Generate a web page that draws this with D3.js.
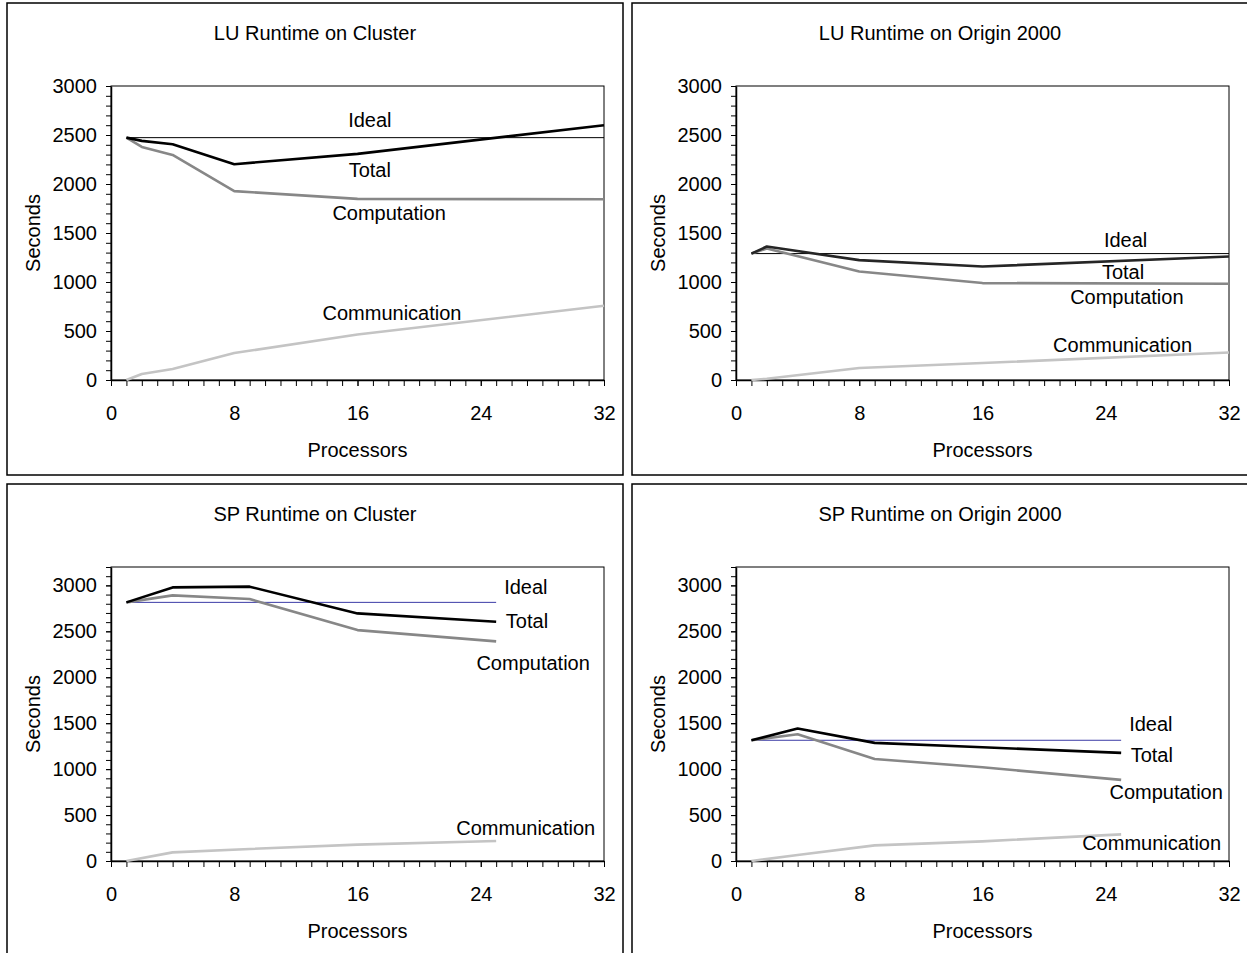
<!DOCTYPE html>
<html lang="en">
  <head>
    <meta charset="UTF-8" />
    <title>LU / SP Runtime</title>
    <script src="https://cdn.jsdelivr.net/npm/d3@7"></script>
    <style>
      body {
        margin: 0;
        background: #fff;
      }
      svg {
        font-family: "Liberation Sans", Arial, sans-serif;
      }
      .axis path,
      .axis line {
        stroke: #000;
      }
      .axis text {
        font-family: "Liberation Sans", Arial, sans-serif;
        font-size: 20px;
        fill: #000;
      }
    </style>
  </head>
  <body>
    <script>
      // processor counts
      const luProcs = [1, 2, 4, 8, 16, 32];
      const luOriginProcs = [1, 2, 8, 16, 32];
      const spProcs = [1, 4, 9, 16, 25];

      // LU on cluster (seconds)
      const luClusterIdeal = 2473;
      const luClusterTotal = [2473, 2440, 2406, 2202, 2307, 2600];
      const luClusterComp = [2473, 2378, 2297, 1927, 1848, 1845];
      const luClusterComm = [0, 61, 112, 275, 465, 757];

      // LU on Origin 2000
      const luOriginIdeal = 1290;
      const luOriginTotal = [1290, 1362, 1223, 1158, 1260];
      const luOriginComp = [1290, 1342, 1107, 989, 982];
      const luOriginComm = [0, 13, 122, 173, 281];

      // SP on cluster
      const spClusterIdeal = 2815;
      const spClusterTotal = [2815, 2978, 2986, 2695, 2604];
      const spClusterComp = [2815, 2891, 2851, 2513, 2390];
      const spClusterComm = [0, 94, 131, 178, 218];

      // SP on Origin 2000
      const spOriginIdeal = 1314;
      const spOriginTotal = [1314, 1442, 1286, 1238, 1177];
      const spOriginComp = [1314, 1380, 1111, 1020, 883];
      const spOriginComm = [0, 65, 170, 214, 290];

      const xTicks = [0, 8, 16, 24, 32];
      const yTicks = [0, 500, 1000, 1500, 2000, 2500, 3000];

      const width = 1247;
      const height = 953;

      const svg = d3
        .select("body")
        .append("svg")
        .attr("width", width)
        .attr("height", height);

      const panels = [
        {
          x: 7, y: 3, title: "LU Runtime on Cluster", procs: luProcs,
          ideal: luClusterIdeal, total: luClusterTotal, comp: luClusterComp, comm: luClusterComm,
          yMax: 3000, idealColor: "#000", totalColor: "#000",
          labels: [["Ideal", 16.8, 2585], ["Total", 16.8, 2074], ["Computation", 18.05, 1633], ["Communication", 18.24, 612]]
        },
        {
          x: 632, y: 3, title: "LU Runtime on Origin 2000", procs: luOriginProcs,
          ideal: luOriginIdeal, total: luOriginTotal, comp: luOriginComp, comm: luOriginComm,
          yMax: 3000, idealColor: "#000", totalColor: "#262626",
          labels: [["Ideal", 25.29, 1360], ["Total", 25.12, 1028], ["Computation", 25.37, 776], ["Communication", 25.09, 289]]
        },
        {
          x: 7, y: 484, title: "SP Runtime on Cluster", procs: spProcs,
          ideal: spClusterIdeal, total: spClusterTotal, comp: spClusterComp, comm: spClusterComm,
          yMax: 3200, idealColor: "#3b3ba6", totalColor: "#000",
          labels: [["Ideal", 26.93, 2903], ["Total", 27.0, 2539], ["Computation", 27.4, 2082], ["Communication", 26.92, 280]]
        },
        {
          x: 632, y: 484, title: "SP Runtime on Origin 2000", procs: spProcs,
          ideal: spOriginIdeal, total: spOriginTotal, comp: spOriginComp, comm: spOriginComm,
          yMax: 3200, idealColor: "#3b3ba6", totalColor: "#000",
          labels: [["Ideal", 26.93, 1415], ["Total", 26.99, 1078], ["Computation", 27.92, 672], ["Communication", 26.98, 123]]
        }
      ];

      const panelW = 616;
      const panelH = 472;
      const plotLeft = 104;
      const plotTop = 83;
      const plotW = 493;
      const plotH = 294;

      panels.forEach(p => {
        const g = svg.append("g").attr("transform", "translate(" + p.x + "," + p.y + ")");

        g.append("rect")
          .attr("width", panelW)
          .attr("height", panelH)
          .attr("fill", "#fff")
          .attr("stroke", "#000")
          .attr("stroke-width", 1.5);

        g.append("text")
          .attr("x", panelW / 2)
          .attr("y", 37)
          .attr("text-anchor", "middle")
          .style("font-size", "20px")
          .text(p.title);

        const xScale = d3.scaleLinear().domain([0, 32]).range([plotLeft, plotLeft + plotW]);
        const yScale = d3.scaleLinear().domain([0, p.yMax]).range([plotTop + plotH, plotTop]);

        // plot box
        g.append("rect")
          .attr("x", plotLeft)
          .attr("y", plotTop)
          .attr("width", plotW)
          .attr("height", plotH)
          .attr("fill", "none")
          .attr("stroke", "#000")
          .attr("stroke-width", 1);

        // minor ticks
        g.append("g")
          .attr("class", "axis")
          .attr("transform", "translate(0," + (plotTop + plotH) + ")")
          .call(d3.axisBottom(xScale).tickValues(d3.range(0, 33, 1)).tickSize(6).tickFormat(""))
          .select(".domain").remove();
        g.append("g")
          .attr("class", "axis")
          .attr("transform", "translate(" + plotLeft + ",0)")
          .call(d3.axisLeft(yScale).tickValues(d3.range(0, p.yMax + 1, 100)).tickSize(5).tickFormat(""))
          .select(".domain").remove();

        // major axes
        g.append("g")
          .attr("class", "axis")
          .attr("transform", "translate(0," + (plotTop + plotH) + ")")
          .call(d3.axisBottom(xScale).tickValues(xTicks).tickSize(6).tickSizeOuter(0).tickPadding(20))
          .select(".domain").attr("stroke-width", 1.5);
        g.append("g")
          .attr("class", "axis")
          .attr("transform", "translate(" + plotLeft + ",0)")
          .call(d3.axisLeft(yScale).tickValues(yTicks).tickFormat(d3.format("d")).tickSize(5).tickSizeOuter(0).tickPadding(9))
          .select(".domain").attr("stroke-width", 1.5);

        g.append("text")
          .attr("x", plotLeft + plotW / 2)
          .attr("y", 454)
          .attr("text-anchor", "middle")
          .style("font-size", "20px")
          .text("Processors");

        g.append("text")
          .attr("transform", "translate(33," + (plotTop + plotH / 2) + ") rotate(-90)")
          .attr("text-anchor", "middle")
          .style("font-size", "20px")
          .text("Seconds");

        const line = d3
          .line()
          .x(d => xScale(d[0]))
          .y(d => yScale(d[1]));

        const first = p.procs[0];
        const last = p.procs[p.procs.length - 1];

        const series = [
          { vals: p.comm, color: "#c4c4c4", w: 2.6 },
          { vals: p.comp, color: "#878787", w: 2.6 },
          { vals: p.total, color: p.totalColor, w: 2.6 }
        ];

        g.append("path")
          .datum([[first, p.ideal], [last, p.ideal]])
          .attr("d", line)
          .attr("fill", "none")
          .attr("stroke", p.idealColor)
          .attr("stroke-width", 1);

        series.forEach(s => {
          g.append("path")
            .datum(p.procs.map((x, i) => [x, s.vals[i]]))
            .attr("d", line)
            .attr("fill", "none")
            .attr("stroke", s.color)
            .attr("stroke-width", s.w)
            .attr("stroke-linejoin", "round");
        });

        g.selectAll(".lbl")
          .data(p.labels)
          .enter()
          .append("text")
          .attr("class", "lbl")
          .attr("x", d => xScale(d[1]))
          .attr("y", d => yScale(d[2]))
          .attr("text-anchor", "middle")
          .style("font-size", "20px")
          .text(d => d[0]);
      });
    </script>
  </body>
</html>
